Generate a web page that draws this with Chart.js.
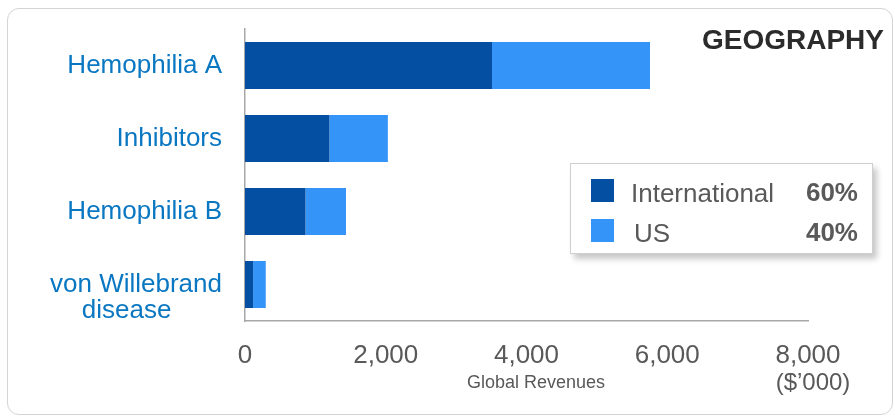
<!DOCTYPE html>
<html>
<head>
<meta charset="utf-8">
<script src="https://cdn.jsdelivr.net/npm/chart.js@4/dist/chart.umd.min.js"></script>
<style>
  html, body { margin: 0; padding: 0; background: #fff; }
  body { width: 895px; height: 416px; position: relative; overflow: hidden;
         font-family: "Liberation Sans", Arial, sans-serif; color: #595959; }
  .card { position: absolute; left: 7px; top: 8px; width: 886px; height: 407px;
          box-sizing: border-box; border: 1.5px solid #d4d4d4; border-radius: 12px; }
  #chart { position: absolute; left: 0; top: 0; }
  .title { position: absolute; right: 11px; top: 26px; font-size: 28px; line-height: 1;
           font-weight: bold; color: #2b2b2b; }
  .legend { position: absolute; left: 570px; top: 163px; width: 303px; height: 91px;
            box-sizing: border-box; border: 1px solid #cfcfcf; background: #fff;
            box-shadow: 4px 5px 6px rgba(0,0,0,0.22); }
  .legend .sw { position: absolute; left: 20px; width: 23px; height: 23px; }
  .legend .name { position: absolute; left: 60px; font-size: 26px; line-height: 1; }
  .legend .share { position: absolute; right: 14px; font-size: 26px; line-height: 1; font-weight: bold; }
  .axis-note { position: absolute; line-height: 1; transform: translateX(-50%); white-space: nowrap; }
</style>
</head>
<body>
<div class="card"></div>
<canvas id="chart" width="895" height="416"></canvas>
<div class="title">GEOGRAPHY</div>
<div class="legend" id="legend"></div>
<div class="axis-note" style="left:536px; top:373px; font-size:18px;">Global Revenues</div>
<div class="axis-note" style="left:813px; top:370px; font-size:24px;">($’000)</div>

<script>
// revenue by indication, $'000
const categories = ['Hemophilia A', 'Inhibitors', 'Hemophilia B', 'von Willebrand disease'];
const international = [3510, 1200, 860, 115];
const us = [2245, 830, 575, 180];

const seriesNames = ['International', 'US'];
const seriesShares = ['60%', '40%'];
const seriesColors = ['#044fa2', '#3594f8'];

const xTicks = [0, 2000, 4000, 6000, 8000];

const FONT = '"Liberation Sans", Arial, sans-serif';

function buildLegend() {
  const box = document.getElementById('legend');
  box.innerHTML = seriesNames.map((name, i) => {
    const top = 15 + i * 40;
    const nameLeft = i === 0 ? 60 : 63;
    return `
      <div class="sw" style="top:${top}px;background:${seriesColors[i]};"></div>
      <div class="name" style="top:${top + 0.5}px;left:${nameLeft}px;">${name}</div>
      <div class="share" style="top:${top}px;">${seriesShares[i]}</div>`;
  }).join('');
}

function renderChart() {
  const ctx = document.getElementById('chart').getContext('2d');
  new Chart(ctx, {
    type: 'bar',
    data: {
      labels: categories,
      datasets: [
        { label: seriesNames[0], data: international, backgroundColor: seriesColors[0] },
        { label: seriesNames[1], data: us, backgroundColor: seriesColors[1] }
      ]
    },
    options: {
      indexAxis: 'y',
      responsive: false,
      animation: false,
      devicePixelRatio: 1,
      layout: { padding: { top: 29, right: 87, left: 0, bottom: 0 } },
      datasets: { bar: { categoryPercentage: 1, barPercentage: 0.644 } },
      scales: {
        x: {
          stacked: true,
          min: xTicks[0],
          max: xTicks[xTicks.length - 1],
          afterBuildTicks: scale => { scale.ticks = xTicks.map(v => ({ value: v })); },
          afterFit: scale => {
            scale.height = 95;
            scale.paddingLeft = 0;
            scale.paddingRight = 0;
          },
          grid: { display: false, drawTicks: false, tickLength: 0 },
          border: { display: true, color: '#a8a8a8', width: 1.5 },
          ticks: {
            color: '#595959',
            padding: 19,
            maxRotation: 0,
            font: { family: FONT, size: 26 },
            callback: v => v.toLocaleString('en-US')
          }
        },
        y: {
          stacked: true,
          afterFit: scale => {
            scale.width = 245;
            scale.paddingTop = 0;
            scale.paddingBottom = 0;
          },
          grid: { display: false, drawTicks: false, tickLength: 0 },
          border: { display: true, color: '#a8a8a8', width: 1.5 },
          ticks: {
            color: '#0a77c2',
            padding: 23,
            autoSkip: false,
            font: { family: FONT, size: 26, lineHeight: 1 },
            callback(value) {
              const label = this.getLabelForValue(value);
              // two-line label, first line level with the bar
              if (label === 'von Willebrand disease') {
                return ['', 'von Willebrand', 'disease' + '\u00a0'.repeat(7)];
              }
              return label;
            }
          }
        }
      },
      plugins: {
        legend: { display: false },
        tooltip: { enabled: false }
      }
    }
  });
}

buildLegend();
renderChart();
</script>
</body>
</html>
